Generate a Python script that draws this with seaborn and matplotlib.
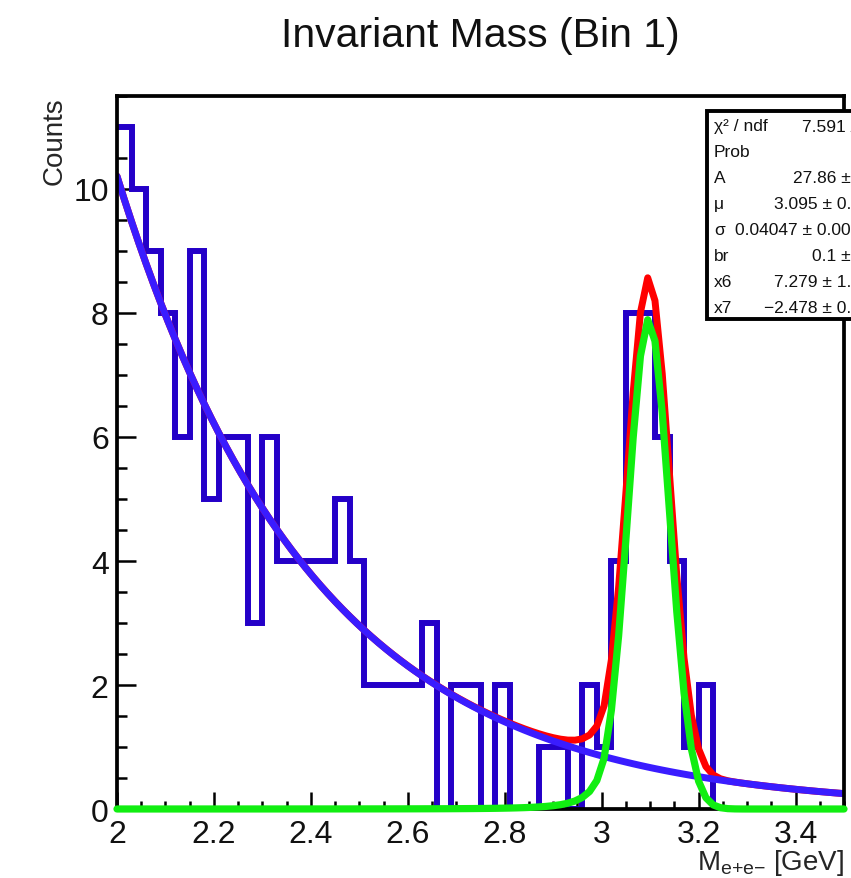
import numpy as np
import pandas as pd
import matplotlib
matplotlib.use("Agg")
import matplotlib.pyplot as plt
import seaborn as sns
from matplotlib.patches import Rectangle
from matplotlib.ticker import MultipleLocator

# ---------------- data ----------------
hist_lo, hist_hi, n_bins = 2.0, 3.5, 50
counts = [11, 10, 9, 8, 6, 9, 5, 6, 6, 3,
          6, 4, 4, 4, 4, 5, 4, 2, 2, 2,
          2, 3, 0, 2, 2, 0, 2, 0, 0, 1,
          1, 0, 2, 1, 4, 8, 8, 6, 4, 1,
          2, 0, 0, 0, 0, 0, 0, 0, 0, 0]

# background: exp(x6 + x7*m)
bkg_x6 = 7.279
bkg_x7 = -2.478
# signal peak (shape)
sig_height = 7.9
sig_mu = 3.097
sig_sigma = 0.043
tail_alpha = 2.0
tail_n = 3.0

x_tick_values = [2.0, 2.2, 2.4, 2.6, 2.8, 3.0, 3.2, 3.4]
x_tick_labels = ["2", "2.2", "2.4", "2.6", "2.8", "3", "3.2", "3.4"]
y_tick_values = [0, 2, 4, 6, 8, 10]
y_tick_labels = ["0", "2", "4", "6", "8", "10"]

stat_names = ["χ² / ndf", "Prob", "A", "μ", "σ", "br", "x6", "x7"]
stat_values = ["7.591 / 43", "1", "27.86 ± 6.5", "3.095 ± 0.012",
               "0.04047 ± 0.00968", "0.1 ± 0.0", "7.279 ± 1.123",
               "\u22122.478 ± 0.393"]

title = "Invariant Mass (Bin 1)"

# ---------------- style ----------------
sns.set_style("ticks")
plt.rcParams["font.family"] = ["Liberation Sans", "DejaVu Sans"]
plt.rcParams["mathtext.fontset"] = "custom"
plt.rcParams["mathtext.rm"] = "Liberation Sans"
plt.rcParams["mathtext.it"] = "Liberation Sans"

W, H = 851, 879
fig = plt.figure(figsize=(W / 100, H / 100), dpi=100)
fig.patch.set_facecolor("white")
ax_l, ax_r, ax_t, ax_b = 117, 844, 97, 810
ax = fig.add_axes([ax_l / W, 1 - ax_b / H, (ax_r - ax_l) / W, (ax_b - ax_t) / H])
ax.set_facecolor("white")

edges = np.linspace(hist_lo, hist_hi, n_bins + 1)
centers = 0.5 * (edges[:-1] + edges[1:])
df = pd.DataFrame({"mass": centers, "counts": np.asarray(counts, dtype=float)})

HIST_COL = "#2400c8"
BKG_COL = "#3a1cff"
TOT_COL = "#ff0000"
SIG_COL = "#11ee11"

sns.histplot(data=df, x="mass", weights="counts", bins=n_bins,
             binrange=(hist_lo, hist_hi), element="step",
             fill=False, color=HIST_COL, linewidth=4.3, ax=ax, zorder=2)
for ln in ax.lines:
    ln.set_solid_joinstyle("miter")

# fit curves (sampled like the original, 100 steps over the range)
xs = np.linspace(hist_lo, hist_hi, 101)


def crystal_ball(x, mu, s, a, n):
    t = (x - mu) / s
    A = (n / a) ** n * np.exp(-a * a / 2)
    B = n / a - a
    core = np.exp(-t * t / 2)
    tail = A * np.clip(B - t, 1e-6, None) ** (-n)
    return np.where(t > -a, core, tail)


bkg = np.exp(bkg_x6 + bkg_x7 * xs)
sig = sig_height * crystal_ball(xs, sig_mu, sig_sigma, tail_alpha, tail_n)
tot = bkg + sig
curves = pd.DataFrame({"m": xs, "tot": tot, "bkg": bkg, "sig": sig})

sns.lineplot(data=curves, x="m", y="tot", color=TOT_COL, linewidth=5.0, ax=ax,
             zorder=3, sort=False)
sns.lineplot(data=curves, x="m", y="bkg", color=BKG_COL, linewidth=5.0, ax=ax,
             zorder=4, sort=False)
n_before = len(ax.lines)
sns.lineplot(data=curves, x="m", y="sig", color=SIG_COL, linewidth=5.2, ax=ax,
             zorder=7, sort=False)
for ln in ax.lines[n_before:]:
    ln.set_clip_on(False)

ax.set_xlim(hist_lo, hist_hi)
ax.set_ylim(0, 11.5)

for sp in ax.spines.values():
    sp.set_visible(True)
    sp.set_color("black")
    sp.set_linewidth(2.7)
    sp.set_zorder(6)

ax.set_xticks(x_tick_values)
ax.set_xticklabels(x_tick_labels)
ax.set_yticks(y_tick_values)
ax.set_yticklabels(y_tick_labels)
ax.xaxis.set_minor_locator(MultipleLocator(0.05))
ax.yaxis.set_minor_locator(MultipleLocator(0.5))
ax.tick_params(axis="both", which="both", direction="in", top=False, right=False,
               color="black", width=1.8, labelsize=23, labelcolor="#111111")
ax.tick_params(axis="x", which="major", length=12, pad=7)
ax.tick_params(axis="x", which="minor", length=6)
ax.tick_params(axis="y", which="major", length=14, pad=6)
ax.tick_params(axis="y", which="minor", length=7)

ax.set_xlabel(r"M$_{\mathrm{e{+}e{-}}}$ [GeV]", fontsize=20, loc="right")
ax.xaxis.set_label_coords(1.0, -0.053)
ax.set_ylabel("Counts", fontsize=20, loc="top")
ax.yaxis.set_label_coords(-0.068, 1.0)

fig.text((ax_l + ax_r) / 2 / W, 1 - 36 / H, title, ha="center", va="center",
         fontsize=29.5, color="#111111")

# statistics box (extends beyond the right edge of the canvas, as in the original)
box_x0, box_x1, box_top, box_bot = 707, 980, 112, 320
fig.patches.append(Rectangle((box_x0 / W, 1 - box_bot / H), (box_x1 - box_x0) / W,
                             (box_bot - box_top) / H, transform=fig.transFigure,
                             facecolor="white", edgecolor="black", linewidth=2.8,
                             zorder=10))
row_y0, row_dy = 127, 25.9
lab_x, val_x = 714, 880
for i, (nm, vv) in enumerate(zip(stat_names, stat_values)):
    yy = 1 - (row_y0 + i * row_dy) / H
    fig.text(lab_x / W, yy, nm, ha="left", va="center", fontsize=12.5, zorder=11,
             color="#111111")
    fig.text(val_x / W, yy, vv, ha="right", va="center", fontsize=12.5, zorder=11,
             color="#111111")

fig.savefig("out.png", dpi=100)
